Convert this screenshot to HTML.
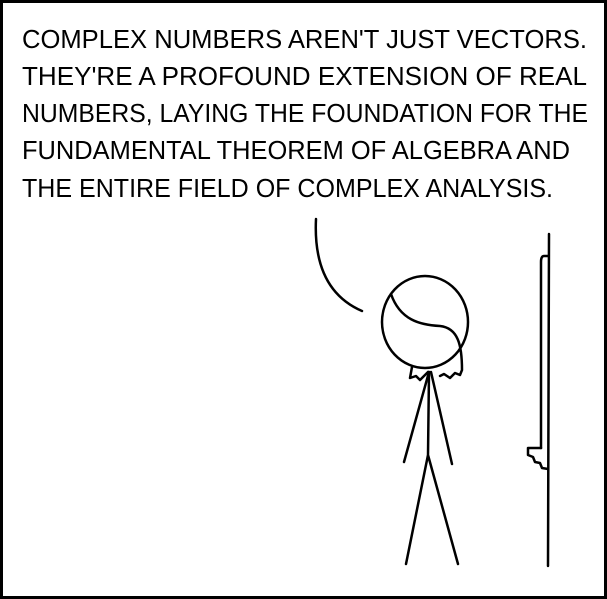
<!DOCTYPE html>
<html><head><meta charset="utf-8"><style>
html,body{margin:0;padding:0;background:#fff;}
svg{display:block;}
text{font-family:"Liberation Sans",sans-serif;font-size:26px;fill:#000;}
</style></head><body>
<svg width="607" height="599" viewBox="0 0 607 599">
<rect x="1.5" y="1.5" width="604" height="596" fill="#fff" stroke="#000" stroke-width="3"/>
<g>
<text x="22" y="48" textLength="565" lengthAdjust="spacingAndGlyphs">COMPLEX NUMBERS AREN'T JUST VECTORS.</text>
<text x="22" y="85" textLength="565" lengthAdjust="spacingAndGlyphs">THEY'RE A PROFOUND EXTENSION OF REAL</text>
<text x="22" y="122" textLength="566" lengthAdjust="spacingAndGlyphs">NUMBERS, LAYING THE FOUNDATION FOR THE</text>
<text x="22" y="159" textLength="548" lengthAdjust="spacingAndGlyphs">FUNDAMENTAL THEOREM OF ALGEBRA AND</text>
<text x="22" y="197" textLength="531" lengthAdjust="spacingAndGlyphs">THE ENTIRE FIELD OF COMPLEX ANALYSIS.</text>
</g>
<g fill="none" stroke="#000" stroke-width="2.5" stroke-linecap="round" stroke-linejoin="round">
<path d="M316 219 C314 260 325 295 362 311"/>
<ellipse cx="425" cy="322" rx="43" ry="46"/>
<path d="M391 294 C400 320 420 325 440 326 C458 328 462 345 462 370 L460 375 L455 373 L450 378 L444 374 L440 376"/>
<path d="M412 367 L410 378 L416 376 L420 380 L428 372"/>
<path d="M429 372 L428 455 L406 564 M428 455 L458 564"/>
<path d="M429 372 L404 462 M431 372 L452 464"/>
<path d="M549 234 L548 566"/>
<path d="M548 256 L544 256 Q541 256 541 262 L541 448"/>
<path d="M541 448 L528 448 L528 455 L533 457 L535 462 L540 463 L542 468 L548 469"/>
</g>
</svg>
</body></html>
